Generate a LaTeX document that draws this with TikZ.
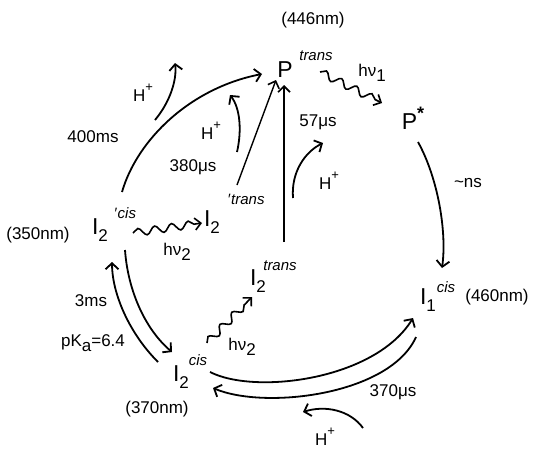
\documentclass[tikz,border=0pt]{standalone}
\usepackage{fontspec}
\setmainfont{Liberation Sans}
\usetikzlibrary{arrows.meta,decorations.pathmorphing}
\newcommand\lsub[1]{\raisebox{-0.3em}{\fontsize{17}{17}\selectfont #1}}
\newcommand\hsup[1]{\raisebox{0.6em}{\fontsize{13}{13}\selectfont #1}}
\tikzset{
  big/.style={font=\fontsize{23}{23}\selectfont, inner sep=0pt},
  lab/.style={font=\fontsize{17}{17}\selectfont, inner sep=0pt},
  sup/.style={font=\fontsize{15}{15}\selectfont\itshape, inner sep=0pt},
  arr/.style={line width=1.8pt, -{Straight Barb[length=6pt,width=13pt,line width=1.8pt]}},
  thin arr/.style={line width=1.4pt, -{Straight Barb[length=6pt,width=12pt,line width=1.6pt]}},
  wave/.style={line width=1.6pt, -{Straight Barb[length=6pt,width=12pt,line width=1.6pt]},
    decorate, decoration={snake, amplitude=3.8pt, segment length=17pt, post length=6pt}},
}
\begin{document}
\begin{tikzpicture}[x=1pt,y=-1pt]
\useasboundingbox (0,0) rectangle (537,450);
% species
\node[lab] (nm446) at (313,20) {(446nm)};
\node[big] (P) at (285,70) {P};
\node[sup] (Ptr) at (316,56) {trans};
\node[big] (Ps) at (413,118) {P\raisebox{0.45em}{\fontsize{18}{18}\selectfont\bfseries *}};
\node[big] (I1) at (428,300) {I\lsub{1}};
\node[sup] (I1c) at (446,287) {cis};
\node[lab] (nm460) at (497,297) {(460nm)};
\node[big] (I2b) at (181,377) {I\lsub{2}};
\node[sup] (I2bc) at (198,360) {cis};
\node[lab] (nm370) at (157,409) {(370nm)};
\node[big] (I2t) at (258,281) {I\lsub{2}};
\node[sup] (I2tt) at (280,266) {trans};
\node[big] (I2l) at (100,230) {I\lsub{2}};
\node[sup] (I2lc) at (125,213) {′\kern1pt cis};
\node[lab] (nm350) at (38,235) {(350nm)};
\node[big] (I2m) at (212,222) {I\lsub{2}};
\node[sup] (I2mt) at (246,199) {′\kern1pt trans};
% labels
\node[lab] (lhv1) at (372,73) {hν\lsub{1}};
\node[lab] (lhv2a) at (177,252) {hν\lsub{2}};
\node[lab] (lhv2b) at (242,347) {hν\lsub{2}};
\node[lab] (l400) at (93,137) {400ms};
\node[lab] (hA) at (143,93) {H\hsup{+}};
\node[lab] (l380) at (193,167) {380μs};
\node[lab] (hB) at (211,131) {H\hsup{+}};
\node[lab] (l57) at (318,122) {57μs};
\node[lab] (hC) at (329,181) {H\hsup{+}};
\node[lab] (lns) at (468,183) {\textasciitilde ns};
\node[lab] (l3ms) at (91,301) {3ms};
\node[lab] (lpka) at (93,343) {pK\lsub{a}=6.4};
\node[lab] (l370) at (393,392) {370μs};
\node[lab] (hD) at (325,437) {H\hsup{+}};
% connector end points
\coordinate (a1) at (122,192); \coordinate (a2) at (262,74);
\coordinate (b1) at (155,120); \coordinate (b2) at (175,63);
\coordinate (c1) at (237,185); \coordinate (c2) at (276,80);
\coordinate (d1) at (237,152); \coordinate (d2) at (230,95);
\coordinate (e1) at (284,242); \coordinate (e2) at (284,85);
\coordinate (f1) at (293,198); \coordinate (f2) at (323,143);
\coordinate (g1) at (320,72); \coordinate (g2) at (382,103);
\coordinate (h1) at (418,142); \coordinate (h2) at (442,268);
\coordinate (i1) at (133,233); \coordinate (i2) at (202,223);
\coordinate (j1) at (207,343); \coordinate (j2) at (252,297);
\coordinate (k1) at (158,362); \coordinate (k2) at (112,262);
\coordinate (m1) at (125,250); \coordinate (m2) at (172,352);
\coordinate (n1) at (210,372); \coordinate (n2) at (413,318);
\coordinate (o1) at (416,337); \coordinate (o2) at (213,388);
\coordinate (q1) at (363,428); \coordinate (q2) at (303,412);
% connectors
\draw[arr] (a1) .. controls (137,140) and (190,88) .. (a2);
\draw[arr] (b1) .. controls (170,102) and (177,80) .. (b2);
\draw[thin arr] (c1) -- (c2);
\draw[arr] (d1) .. controls (242,130) and (240,108) .. (d2);
\draw[thin arr] (e1) -- (e2);
\draw[arr] (f1) .. controls (291,172) and (305,152) .. (f2);
\draw[wave] (g1) -- (g2);
\draw[arr] (h1) .. controls (438,178) and (447,232) .. (h2);
\draw[wave] (i1) -- (i2);
\draw[wave] (j1) -- (j2);
\draw[arr] (k1) .. controls (128,332) and (112,292) .. (k2);
\draw[arr] (m1) .. controls (128,292) and (146,330) .. (m2);
\draw[arr] (n1) .. controls (255,395) and (375,380) .. (n2);
\draw[arr] (o1) .. controls (390,395) and (265,410) .. (o2);
\draw[arr] (q1) .. controls (350,410) and (325,405) .. (q2);
\end{tikzpicture}
\end{document}
